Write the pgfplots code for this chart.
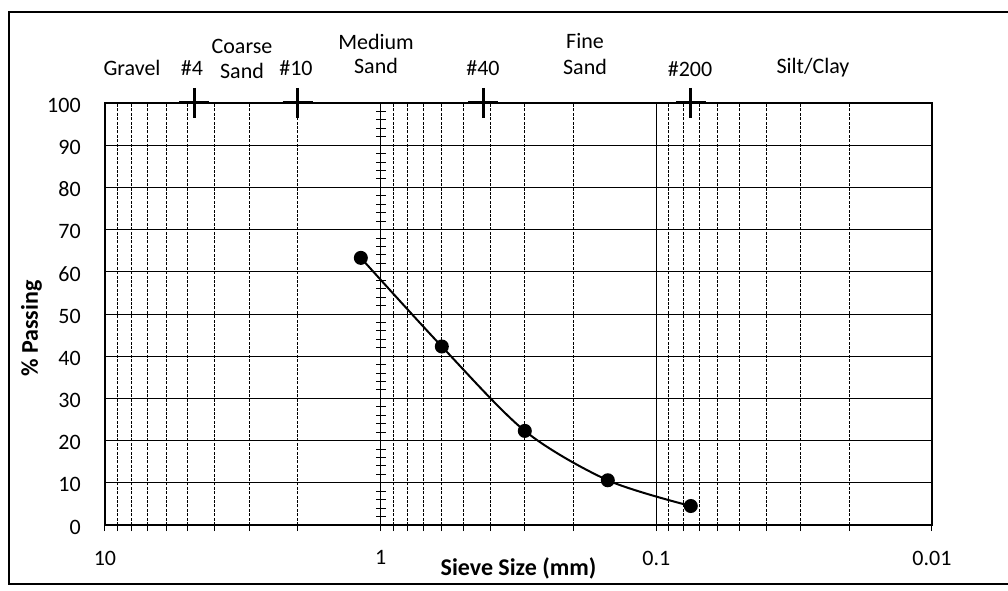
\documentclass[border=0pt]{standalone}
\usepackage{fontspec}
\setmainfont{Carlito}
\usepackage{pgfplots}
\pgfplotsset{compat=1.18}
\begin{document}
\fontsize{11pt}{13pt}\selectfont
\begin{tikzpicture}
\useasboundingbox (-52.5pt,-32.5pt) rectangle (451.5pt,262.5pt);
\draw[line width=1.4pt] (520pt,256.5pt) -- (-48pt,256.5pt) -- (-48pt,-29.5pt) -- (520pt,-29.5pt);
\begin{axis}[
  at={(0,0)}, anchor=south west,
  width=413.5pt, height=211pt, scale only axis,
  xmode=log, x dir=reverse, xmin=0.01, xmax=10,
  ymin=0, ymax=100,
  xtick={0.01,0.1,1,10}, xticklabels={0.01,0.1,1,10},
  minor xtick={0.02,0.03,0.04,0.05,0.06,0.07,0.08,0.09,0.2,0.3,0.4,0.5,0.6,0.7,0.8,0.9,2,3,4,5,6,7,8,9},
  ytick={0,10,...,100},
  xmajorgrids, xminorgrids, ymajorgrids,
  major grid style={black, line width=0.5pt},
  minor grid style={black, line width=0.5pt, dash pattern=on 1.5pt off 0.7pt},
  axis line style={black, line width=0.6pt},
  tick align=outside, major tick length=3pt, minor tick length=3pt,
  x tick style={black, line width=0.5pt},
  y tick style={draw=none},
  xtick pos=left, ytick pos=left,
  /pgf/number format/assume math mode=true,
  xticklabel style={font=\fontsize{11pt}{13pt}\selectfont, yshift=-6pt},
  yticklabel style={font=\fontsize{11pt}{13pt}\selectfont, xshift=-5.3pt, yshift=-1pt},
  clip=false,
]
\addplot[black, line width=1.3pt, mark=+, mark size=7.5pt, mark options={line width=1.5pt}]
  coordinates {(4.75,100) (2,100) (0.425,100) (0.075,100)};
\addplot[black, line width=1pt, smooth, tension=0.5, mark=*, mark size=3pt]
  coordinates {(1.18,63.3) (0.6,42.3) (0.3,22.3) (0.15,10.6) (0.075,4.5)};
\end{axis}
\begin{axis}[
  at={(0,0)}, anchor=south west,
  width=413.5pt, height=211pt, scale only axis,
  xmin=-2, xmax=1, x dir=reverse, ymin=0, ymax=100,
  axis x line=none, axis y line=middle,
  y axis line style={-, black, line width=0.6pt},
  ytick={0,2,...,100}, yticklabels={},
  major tick length=5pt, tick align=center,
  y tick style={black, line width=0.5pt},
]
\end{axis}
\begin{scope}[every node/.style={anchor=base, inner sep=0pt}]
\node at (13.5pt,224.5pt) {Gravel};
\node at (43.5pt,224.5pt) {\#4};
\node at (68.5pt,235.5pt) {Coarse};
\node at (68.5pt,223pt) {Sand};
\node at (95.5pt,224.5pt) {\#10};
\node at (135.5pt,237.5pt) {Medium};
\node at (135.5pt,225.5pt) {Sand};
\node at (189pt,224.5pt) {\#40};
\node at (240pt,238pt) {Fine};
\node at (240pt,225pt) {Sand};
\node at (292.5pt,224pt) {\#200};
\node at (354pt,225.5pt) {Silt/Clay};
\node[font=\fontsize{12pt}{14pt}\selectfont\bfseries] at (206.75pt,-25pt) {Sieve Size (mm)};
\end{scope}
\node[font=\fontsize{12pt}{14pt}\selectfont\bfseries, rotate=90, inner sep=0pt] at (-36.75pt,98.25pt) {\% Passing};
\end{tikzpicture}
\end{document}
